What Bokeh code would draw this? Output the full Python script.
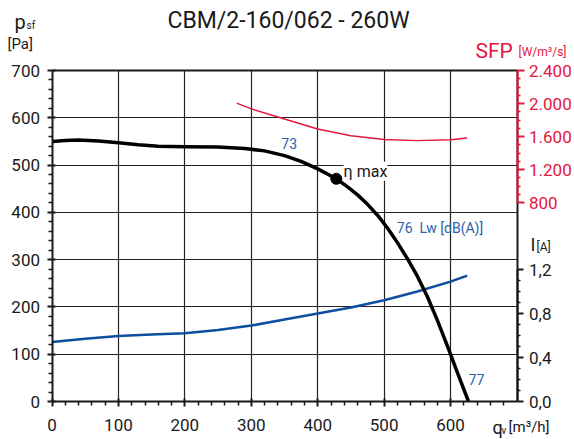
from bokeh.plotting import figure
from bokeh.models import (Range1d, LinearAxis, FixedTicker, CustomJSTickFormatter, Label, Grid)
from bokeh.embed import file_html
from bokeh.resources import INLINE

# ---- data ----
q_pressure = [0, 20, 40, 70, 100, 130, 160, 200, 250, 290, 320, 350, 375, 400, 428, 445, 460,
              475, 490, 505, 520, 535, 550, 565, 580, 595, 610, 627]
p_static = [550, 552, 553, 551, 547, 543, 540, 539, 538, 535, 530, 520, 508, 492, 471, 454, 437,
            417, 394, 367, 336, 302, 265, 222, 172, 118, 62, 0]

q_sfp = [278, 300, 350, 400, 450, 500, 550, 600, 625]
sfp = [2005, 1935, 1812, 1690, 1610, 1563, 1550, 1560, 1582]

q_current = [0, 50, 100, 150, 200, 250, 300, 350, 400, 450, 500, 550, 600, 625]
current = [0.54, 0.57, 0.595, 0.61, 0.62, 0.65, 0.69, 0.745, 0.80, 0.855, 0.92, 1.0, 1.09, 1.145]

eta_q = [428]
eta_p = [471]

x_ticks = [0, 100, 200, 300, 400, 500, 600]
y_ticks = [0, 100, 200, 300, 400, 500, 600, 700]
sfp_ticks = [800, 1200, 1600, 2000, 2400]
i_ticks = [0, 0.4, 0.8, 1.2]

title_text = "CBM/2-160/062 - 260W"
lw_labels = ["73", "76\u00a0 Lw [dB(A)]", "77"]

RED = "#e3173e"
BLUE = "#0d4f9e"
BLUE_TXT = "#2b62ae"
INK = "#1a1a1a"
GRID = "#222222"
FONT = "Roboto"

# layout geometry (pixels of the 574x439 canvas)
W, H = 574, 439
FX0, FX1 = 51.5, 516.5      # plot box left/right
FY0, FY1 = 70, 401          # plot box top/bottom
XMAX, YMAX = 700, 700
kx = (FX1 - FX0) / XMAX
ky = (FY1 - FY0) / YMAX

x_range = Range1d(-FX0 / kx, (W - FX0) / kx)
y_range = Range1d(-(H - FY1) / ky, FY1 / ky)

SFP_TOP, SFP_BOT = 2400, 800
SFP_TOP_PX, SFP_BOT_PX = 70, 202
ks = (SFP_BOT_PX - SFP_TOP_PX) / (SFP_TOP - SFP_BOT)
sfp_range = Range1d(SFP_TOP - (H - SFP_TOP_PX) / ks, SFP_TOP + SFP_TOP_PX / ks)

I_TOP, I_TOP_PX = 1.2, 269
ki = (FY1 - I_TOP_PX) / I_TOP
amp_range = Range1d(-(H - FY1) / ki, FY1 / ki)

p = figure(width=W, height=H, min_border=0, x_range=x_range, y_range=y_range,
           x_axis_location=None, y_axis_location=None,
           output_backend="svg", toolbar_location=None, tools="")
p.background_fill_color = "white"
p.border_fill_color = "white"
p.outline_line_color = None
p.center = [r for r in p.center if not isinstance(r, Grid)]

p.extra_y_ranges = {"sfp": sfp_range, "amp": amp_range}

# grid (limited to the plot box)
gx_ticks = x_ticks[1:]
gy_ticks = y_ticks[1:-1]
if "cross_bounds" in Grid.properties():
    p.add_layout(Grid(dimension=0, ticker=FixedTicker(ticks=gx_ticks), bounds=(0, XMAX),
                      cross_bounds=(0, YMAX), grid_line_color=GRID, grid_line_width=1.2))
    p.add_layout(Grid(dimension=1, ticker=FixedTicker(ticks=gy_ticks), bounds=(0, YMAX),
                      cross_bounds=(0, XMAX), grid_line_color=GRID, grid_line_width=1.2))
else:
    p.segment(x0=gx_ticks, x1=gx_ticks, y0=[0] * len(gx_ticks), y1=[YMAX] * len(gx_ticks),
              line_color=GRID, line_width=1.2, level="underlay")
    p.segment(x0=[0] * len(gy_ticks), x1=[XMAX] * len(gy_ticks), y0=gy_ticks, y1=gy_ticks,
              line_color=GRID, line_width=1.2, level="underlay")


def style(ax, color, tin, tout, min_out, standoff):
    ax.axis_line_color = color
    ax.axis_line_width = 2
    ax.major_tick_line_color = color
    ax.major_tick_line_width = 2
    ax.minor_tick_line_color = color
    ax.minor_tick_line_width = 1.5
    ax.major_tick_in = tin
    ax.major_tick_out = tout
    ax.minor_tick_in = 0
    ax.minor_tick_out = min_out
    ax.major_label_text_font = FONT
    ax.major_label_text_font_size = "17px"
    ax.major_label_text_color = color
    ax.major_label_standoff = standoff


def border(side, loc, bounds):
    ax = LinearAxis(fixed_location=loc, bounds=bounds, ticker=FixedTicker(ticks=[]))
    ax.axis_line_color = INK
    ax.axis_line_width = 2
    ax.major_tick_line_color = None
    ax.minor_tick_line_color = None
    ax.major_label_text_font_size = "0px"
    p.add_layout(ax, side)


border("above", YMAX, (0, XMAX))
border("right", XMAX, (0, YMAX))

minor_20 = [v for v in range(20, 700, 20) if v % 100]

xaxis = LinearAxis(fixed_location=0, bounds=(0, XMAX),
                   ticker=FixedTicker(ticks=x_ticks, minor_ticks=minor_20))
style(xaxis, INK, 3, 5, 4, 12)
p.add_layout(xaxis, "below")

yaxis = LinearAxis(fixed_location=0, bounds=(0, YMAX),
                   ticker=FixedTicker(ticks=y_ticks, minor_ticks=minor_20))
style(yaxis, INK, 3, 5, 4, 7)
p.add_layout(yaxis, "left")

sfp_axis = LinearAxis(y_range_name="sfp", fixed_location=XMAX, bounds=(SFP_BOT, SFP_TOP),
                      ticker=FixedTicker(ticks=sfp_ticks,
                                         minor_ticks=[900, 1000, 1100, 1300, 1400, 1500, 1700,
                                                      1800, 1900, 2100, 2200, 2300]),
                      formatter=CustomJSTickFormatter(code="""
                          const t = Math.round(tick);
                          if (t >= 1000) {
                              return Math.floor(t/1000) + "." + String(t % 1000).padStart(3, "0");
                          }
                          return String(t);
                      """))
style(sfp_axis, RED, 0, 7, 3, 5)
p.add_layout(sfp_axis, "right")

amp_axis = LinearAxis(y_range_name="amp", fixed_location=XMAX, bounds=(0, I_TOP),
                      ticker=FixedTicker(ticks=i_ticks,
                                         minor_ticks=[0.1, 0.2, 0.3, 0.5, 0.6, 0.7, 0.9, 1.0, 1.1]),
                      formatter=CustomJSTickFormatter(code="return tick.toFixed(1).replace('.', ',');"))
style(amp_axis, INK, 0, 6, 3, 6)
p.add_layout(amp_axis, "right")

# curves
p.line(q_sfp, sfp, y_range_name="sfp", line_color=RED, line_width=1.5)
p.line(q_current, current, y_range_name="amp", line_color=BLUE, line_width=2.5)
p.line(q_pressure, p_static, line_color="black", line_width=3.5, line_join="round")
p.scatter(eta_q, eta_p, size=11, fill_color="black", line_color="black")

# annotations inside the chart
p.add_layout(Label(x=439, y=487, text="η max", text_font=FONT, text_font_size="16px",
                   text_color=INK, text_baseline="middle", background_fill_color="white",
                   text_align="left"))
p.add_layout(Label(x=357, y=546, text=lw_labels[0], text_font=FONT, text_font_size="14px",
                   text_color=BLUE_TXT, text_baseline="middle", text_align="center"))
p.add_layout(Label(x=519, y=366, text=lw_labels[1], text_font=FONT, text_font_size="14px",
                   text_color=BLUE_TXT, text_baseline="middle", text_align="left"))
p.add_layout(Label(x=627, y=46, text=lw_labels[2], text_font=FONT, text_font_size="14px",
                   text_color=BLUE_TXT, text_baseline="middle", text_align="left"))


def px(xp):
    return (xp - FX0) / kx


def py(yp):
    return (FY1 - yp) / ky


def lab(xp, yp, text, size, color=INK, align="left"):
    p.add_layout(Label(x=px(xp), y=py(yp), text=text, text_font=FONT, text_font_size=size,
                       text_color=color, text_align=align, text_baseline="middle"))


# title
lab(288, 20, title_text, "23px", align="center")
# left axis label
lab(14, 21, "p", "20px")
lab(26, 25, "sf", "10px")
lab(7, 43, "[Pa]", "15px")
# SFP label
lab(475, 50, "SFP", "21px", color=RED)
lab(518, 51, "[W/m³/s]", "12px", color=RED)
# current label
lab(530, 244, "I", "18px")
lab(536, 246, "[A]", "12px")
# x-axis label
lab(492, 427, "q", "18px")
lab(501, 430, "v", "10px")
lab(508, 426, "[m³/h]", "15px")

open("out.html", "w").write(file_html(p, INLINE))
